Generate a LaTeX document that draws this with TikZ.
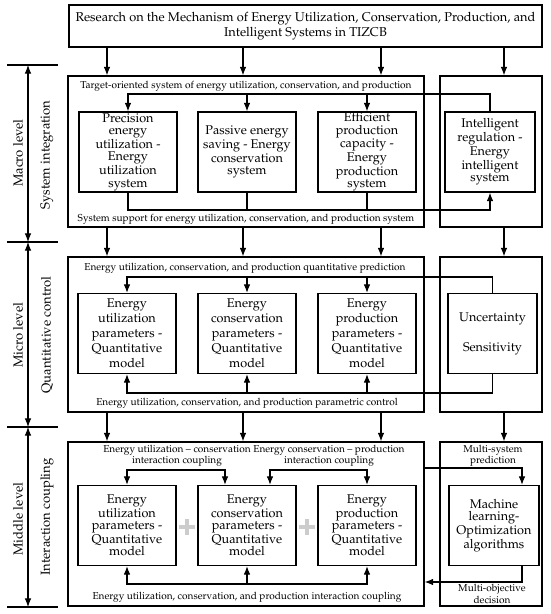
\documentclass[tikz,border=0pt]{standalone}
\usepackage[T1]{fontenc}
\usepackage{mathpazo}
\usetikzlibrary{arrows.meta}

\tikzset{
  frame/.style={draw, line width=0.85pt, inner sep=0pt},
  unit/.style={draw, line width=0.85pt, minimum width=73.5pt, minimum height=60pt, inner sep=0pt, align=center, font=\fontsize{9.5}{9.2}\selectfont},
  note/.style={inner sep=0pt, align=center, font=\fontsize{7.55}{8.4}\selectfont},
  lvl/.style={inner sep=0pt, rotate=90, font=\fontsize{9.8}{11}\selectfont},
  link/.style={line width=0.85pt},
  flow/.style={line width=0.85pt, -{Latex[length=6.5pt,width=5pt]}},
  twoway/.style={line width=0.85pt, {Latex[length=6.5pt,width=5pt]}-{Latex[length=6.5pt,width=5pt]}},
  plus/.style={line width=3.6pt, draw=gray!40},
}

\begin{document}
\begin{tikzpicture}[x=0.75pt,y=0.75pt,yscale=-1,xscale=1]
    \useasboundingbox (0,0) rectangle (550,614);

    %Title
    \draw (305.5,26) node [frame, minimum width=354.75pt, minimum height=31.5pt, align=center, font=\fontsize{9.6}{11.3}\selectfont] (title) {Research on the Mechanism of Energy Utilization, Conservation, Production, and\\Intelligent Systems in TIZCB};

    %Panels
    \draw (246,151.5) node [frame, minimum width=267pt, minimum height=113.25pt] (macroL) {};
    \draw (491,151.5) node [frame, minimum width=76.5pt, minimum height=113.25pt] (macroR) {};
    \draw (246,334.5) node [frame, minimum width=267pt, minimum height=116.25pt] (microL) {};
    \draw (491,334.5) node [frame, minimum width=76.5pt, minimum height=116.25pt] (microR) {};
    \draw (246,524) node [frame, minimum width=267pt, minimum height=123pt] (midL) {};
    \draw (491,524) node [frame, minimum width=76.5pt, minimum height=123pt] (midR) {};

    %Columns between levels
    \coordinate (c1) at (107,0);
    \coordinate (c2) at (243,0);
    \coordinate (c3) at (381,0);
    \coordinate (c4) at (504,0);
    \draw[flow] (title.south -| c1) -- (macroL.north -| c1);
    \draw[flow] (title.south -| c2) -- (macroL.north -| c2);
    \draw[flow] (title.south -| c3) -- (macroL.north -| c3);
    \draw[flow] (title.south -| c4) -- (macroR.north -| c4);
    \draw[flow] (macroL.south -| c1) -- (microL.north -| c1);
    \draw[flow] (macroL.south -| c2) -- (microL.north -| c2);
    \draw[flow] (macroL.south -| c3) -- (microL.north -| c3);
    \draw[flow] (macroR.south -| c4) -- (microR.north -| c4);
    \draw[flow] (microL.south -| c1) -- (midL.north -| c1);
    \draw[flow] (microL.south -| c2) -- (midL.north -| c2);
    \draw[flow] (microL.south -| c3) -- (midL.north -| c3);
    \draw[flow] (microR.south -| c4) -- (midR.north -| c4);

    %Macro level: system integration
    \draw (128,152) node [unit] (sysA) {Precision\\energy\\utilization -\\Energy\\utilization\\system};
    \draw (247,152) node [unit] (sysB) {Passive energy\\saving - Energy\\conservation\\system};
    \draw (367,152) node [unit] (sysC) {Efficient\\production\\capacity -\\Energy\\production\\system};
    \draw (490,152) node [unit, minimum width=67.5pt] (sysI) {Intelligent\\regulation -\\Energy\\intelligent\\system};
    \draw (246,86) node [note] (goalTxt) {Target-oriented system of energy utilization, conservation, and production};
    \draw (246,219) node [note] (supTxt) {System support for energy utilization, conservation, and production system};
    \coordinate (mTop) at (0,94);
    \coordinate (mBot) at (0,210);
    \draw[flow] (sysI.north) |- (sysA.north |- mTop) -- (sysA.north);
    \draw[flow] (sysB.north |- mTop) -- (sysB.north);
    \draw[flow] (sysC.north |- mTop) -- (sysC.north);
    \draw[flow] (sysA.south) |- (sysI.south |- mBot) -- (sysI.south);
    \draw[link] (sysB.south) -- (sysB.south |- mBot);
    \draw[link] (sysC.south) -- (sysC.south |- mBot);

    %Micro level: quantitative control
    \draw (127,333.5) node [unit, font=\fontsize{9.5}{11.25}\selectfont] (parA) {Energy\\utilization\\parameters -\\Quantitative\\model};
    \draw (247,333.5) node [unit, font=\fontsize{9.5}{11.25}\selectfont] (parB) {Energy\\conservation\\parameters -\\Quantitative\\model};
    \draw (367,333.5) node [unit, font=\fontsize{9.5}{11.25}\selectfont] (parC) {Energy\\production\\parameters -\\Quantitative\\model};
    \draw (492.5,333.5) node [unit, minimum width=66.75pt, font=\fontsize{9.5}{22.5}\selectfont] (uncert) {Uncertainty\\Sensitivity};
    \draw (245,268) node [note] (predTxt) {Energy utilization, conservation, and production quantitative prediction};
    \draw (247,403) node [note] (ctrlTxt) {Energy utilization, conservation, and production parametric control};
    \coordinate (qTop) at (0,277);
    \coordinate (qBot) at (0,393);
    \draw[flow] (uncert.north) |- (parA.north |- qTop) -- (parA.north);
    \draw[flow] (parB.north |- qTop) -- (parB.north);
    \draw[flow] (parC.north |- qTop) -- (parC.north);
    \draw[flow] (uncert.south) |- (parA.south |- qBot) -- (parA.south);
    \draw[flow] (parB.south |- qBot) -- (parB.south);
    \draw[flow] (parC.south |- qBot) -- (parC.south);

    %Middle level: interaction coupling
    \draw (127,525.5) node [unit] (cplA) {Energy\\utilization\\parameters -\\Quantitative\\model};
    \draw (247,525.5) node [unit] (cplB) {Energy\\conservation\\parameters -\\Quantitative\\model};
    \draw (367,525.5) node [unit] (cplC) {Energy\\production\\parameters -\\Quantitative\\model};
    \draw (494,525.5) node [unit, minimum width=67.5pt] (mlAlg) {Machine\\learning-\\Optimization\\algorithms};
    \draw (177,455.5) node [note] (cpl1Txt) {Energy utilization -- conservation\\interaction coupling};
    \draw (329,455.5) node [note] (cpl2Txt) {Energy conservation -- production\\interaction coupling};
    \draw (247,597) node [note] (cplTxt) {Energy utilization, conservation, and production interaction coupling};
    \draw (493,455.5) node [note] (msTxt) {Multi-system\\prediction};
    \draw (492,594) node [note] (moTxt) {Multi-objective\\decision};
    \coordinate (kTop) at (0,470);
    \coordinate (kBot) at (0,584);
    \coordinate (kB1) at ([xshift=-16.5pt]cplB.north);
    \coordinate (kB2) at ([xshift=17.25pt]cplB.north);
    \draw[twoway] (cplA.north) |- (kB1 |- kTop) -- (kB1);
    \draw[twoway] (kB2) |- (cplC.north |- kTop) -- (cplC.north);
    \draw[twoway] (cplA.south) |- (cplC.south |- kBot) -- (cplC.south);
    \draw[flow] (cplB.south |- kBot) -- (cplB.south);
    \coordinate (mlIn) at (0,468);
    \coordinate (mlOut) at (0,582);
    \coordinate (mlX) at ([xshift=21pt]mlAlg.north);
    \coordinate (mlY) at ([xshift=21pt]mlAlg.south);
    \draw[flow] (midL.east |- mlIn) -| (mlX);
    \draw[flow] (mlY) |- (midL.east |- mlOut);
    %Plus signs
    \draw[plus] (179,527) -- (195,527) (187,519) -- (187,535);
    \draw[plus] (299,527) -- (315,527) (307,519) -- (307,535);

    %Levels
    \draw[link] (7,65) -- (58,65);
    \draw[link] (7,242) -- (58,242);
    \draw[link] (7,427) -- (58,427);
    \draw[link] (7,607) -- (58,607);
    \coordinate (lv1) at (28,65);
    \coordinate (lv2) at (28,242);
    \coordinate (lv3) at (28,427);
    \coordinate (lv4) at (28,607);
    \draw[twoway] (lv1) -- (lv2);
    \draw[twoway] (lv2) -- (lv3);
    \draw[twoway] (lv3) -- (lv4);
    \draw (18,153) node [lvl] (macroLbl) {Macro level};
    \draw (47,155) node [lvl] (macroSub) {System integration};
    \draw (18,335) node [lvl] (microLbl) {Micro level};
    \draw (47,335) node [lvl] (microSub) {Quantitative control};
    \draw (18,519) node [lvl] (midLbl) {Middle level};
    \draw (47,517) node [lvl] (midSub) {Interaction coupling};

\end{tikzpicture}
\end{document}
